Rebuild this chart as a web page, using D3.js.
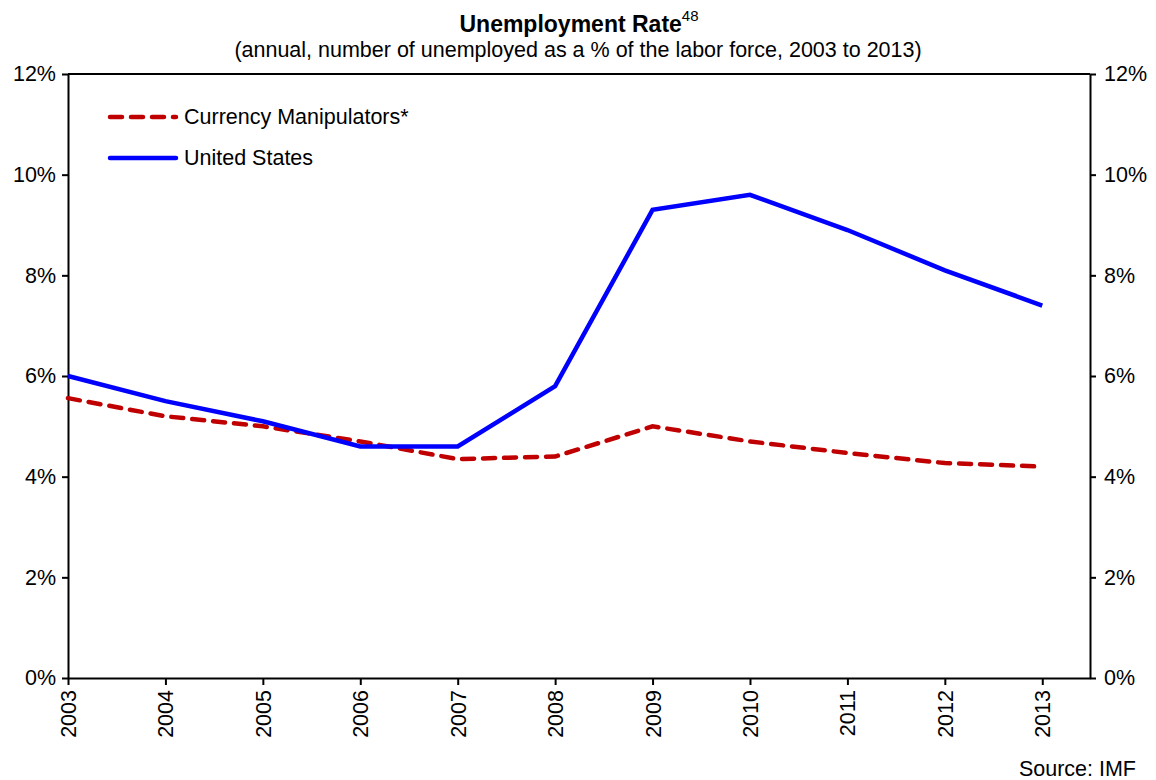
<!DOCTYPE html>
<html>
<head>
<meta charset="utf-8">
<script src="https://cdn.jsdelivr.net/npm/d3@7"></script>
<style>
  body { margin: 0; background: #fff; }
  svg { font-family: "Liberation Sans", Arial, sans-serif; }
  .axis path, .axis line { stroke: #000; stroke-width: 2; }
  .axis text { font-size: 21.5px; fill: #000; }
</style>
</head>
<body>
<script>
// chart data
var years = [2003, 2004, 2005, 2006, 2007, 2008, 2009, 2010, 2011, 2012, 2013];
var unitedStates = [6.0, 5.5, 5.1, 4.6, 4.6, 5.8, 9.3, 9.6, 8.9, 8.1, 7.4];
var currencyManipulators = [5.56, 5.2, 5.0, 4.7, 4.35, 4.4, 5.0, 4.7, 4.47, 4.27, 4.2];
var yTicks = [0, 2, 4, 6, 8, 10, 12];

var width = 1156, height = 780;
var margin = {top: 74, right: 66, bottom: 102, left: 68};

var svg = d3.select("body").append("svg")
    .attr("width", width)
    .attr("height", height);

var x = d3.scaleLinear()
    .domain([2003, 2013.49])
    .range([margin.left, width - margin.right]);

var y = d3.scaleLinear()
    .domain([0, 12])
    .range([height - margin.bottom, margin.top]);

// title
var title = svg.append("text")
    .attr("x", 579)
    .attr("y", 32)
    .attr("text-anchor", "middle")
    .style("font-size", "23px")
    .style("font-weight", "bold");
title.append("tspan").text("Unemployment Rate");
title.append("tspan")
    .attr("dy", -11)
    .style("font-size", "15px")
    .style("font-weight", "normal")
    .text("48");

svg.append("text")
    .attr("x", 578)
    .attr("y", 57)
    .attr("text-anchor", "middle")
    .style("font-size", "21.5px")
    .text("(annual, number of unemployed as a % of the labor force, 2003 to 2013)");

// top border
svg.append("line")
    .attr("x1", x.range()[0]).attr("x2", x.range()[1])
    .attr("y1", y(12)).attr("y2", y(12))
    .attr("stroke", "#000").attr("stroke-width", 2);

// left axis
svg.append("g")
    .attr("class", "axis")
    .attr("transform", "translate(" + x.range()[0] + ",0)")
    .call(d3.axisLeft(y).tickValues(yTicks).tickSize(6).tickSizeOuter(0).tickPadding(6)
        .tickFormat(function(d) { return d + "%"; }));

// right axis
svg.append("g")
    .attr("class", "axis")
    .attr("transform", "translate(" + x.range()[1] + ",0)")
    .call(d3.axisRight(y).tickValues(yTicks).tickSize(6).tickSizeOuter(0).tickPadding(8)
        .tickFormat(function(d) { return d + "%"; }));

// bottom axis
var xAxis = svg.append("g")
    .attr("class", "axis")
    .attr("transform", "translate(0," + y(0) + ")")
    .call(d3.axisBottom(x).tickValues(years).tickSize(7).tickSizeOuter(0)
        .tickFormat(d3.format("d")));
xAxis.selectAll("text")
    .attr("transform", "rotate(-90)")
    .attr("x", -12)
    .attr("y", 0)
    .attr("dy", "0.35em")
    .style("text-anchor", "end");

var line = d3.line()
    .x(function(d, i) { return x(years[i]); })
    .y(function(d) { return y(d); });

svg.append("path")
    .datum(currencyManipulators)
    .attr("fill", "none")
    .attr("stroke", "#c00000")
    .attr("stroke-width", 4.5)
    .attr("stroke-linecap", "round")
    .attr("stroke-dasharray", "12,9")
    .attr("d", line);

svg.append("path")
    .datum(unitedStates)
    .attr("fill", "none")
    .attr("stroke", "#0000ff")
    .attr("stroke-width", 4.5)
    .attr("d", line);

// legend
var legend = [
    {name: "Currency Manipulators*", color: "#c00000", dash: "12,9", y: 117},
    {name: "United States", color: "#0000ff", dash: null, y: 158}
];
legend.forEach(function(l) {
    svg.append("line")
        .attr("x1", 110).attr("x2", 176)
        .attr("y1", l.y).attr("y2", l.y)
        .attr("stroke", l.color)
        .attr("stroke-width", 4.5)
        .attr("stroke-linecap", "round")
        .attr("stroke-dasharray", l.dash);
    svg.append("text")
        .attr("x", 184)
        .attr("y", l.y + 7)
        .style("font-size", "21.5px")
        .text(l.name);
});

// source
svg.append("text")
    .attr("x", 1136)
    .attr("y", 776)
    .attr("text-anchor", "end")
    .style("font-size", "21.5px")
    .text("Source: IMF");
</script>
</body>
</html>
